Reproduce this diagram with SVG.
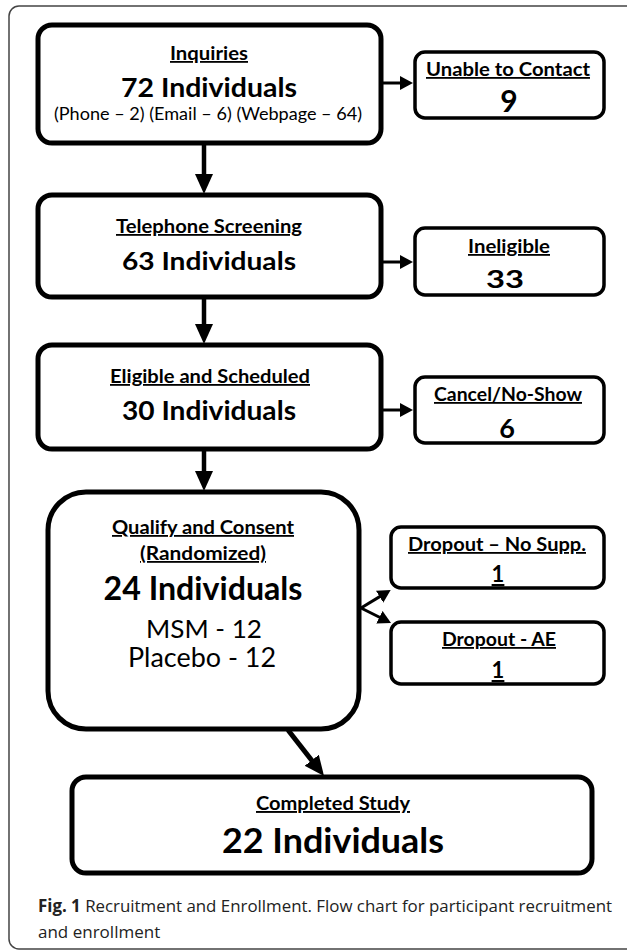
<svg xmlns="http://www.w3.org/2000/svg" width="627" height="950" viewBox="0 0 627 950">
<style>
.main{fill:#fff;stroke:#000;stroke-width:5}
.side{fill:#fff;stroke:#000;stroke-width:3.5}
text{font-family:Lato,"Open Sans","Liberation Sans",sans-serif;fill:#000;text-anchor:middle}
.h{font-weight:bold;font-size:18px;text-decoration:underline}
.big{font-weight:bold}
.reg{font-weight:normal}
.cap{font-family:"Open Sans","Liberation Sans",sans-serif;font-size:17px;text-anchor:start;fill:#222}
.conn{stroke:#000;fill:none}
</style>
<defs>
<marker id="bigArrow" markerUnits="userSpaceOnUse" markerWidth="22" markerHeight="20" refX="6" refY="9" orient="auto">
<path d="M0,0 L20,9 L0,18 z" fill="#000"/>
</marker>
<marker id="smallArrow" markerUnits="userSpaceOnUse" markerWidth="16" markerHeight="16" refX="4" refY="7" orient="auto">
<path d="M0,0 L13,7 L0,14 z" fill="#000"/>
</marker>
</defs>
<rect x="9" y="6" width="630" height="943" rx="10" fill="#fff" stroke="#444" stroke-width="1.5"/>

<g id="connectors">
<line class="conn" x1="204" y1="143" x2="204" y2="180" stroke-width="4.5" marker-end="url(#bigArrow)"/>
<line class="conn" x1="204" y1="297" x2="204" y2="330" stroke-width="4.5" marker-end="url(#bigArrow)"/>
<line class="conn" x1="204" y1="449" x2="204" y2="477" stroke-width="4.5" marker-end="url(#bigArrow)"/>
<line class="conn" x1="288" y1="730" x2="315.4" y2="765" stroke-width="5" marker-end="url(#bigArrow)"/>
<line class="conn" x1="382" y1="83" x2="404" y2="83" stroke-width="3" marker-end="url(#smallArrow)"/>
<line class="conn" x1="382" y1="262" x2="404" y2="262" stroke-width="3" marker-end="url(#smallArrow)"/>
<line class="conn" x1="382" y1="410" x2="404" y2="410" stroke-width="3" marker-end="url(#smallArrow)"/>
<line class="conn" x1="361" y1="608" x2="383" y2="594.6" stroke-width="3" marker-end="url(#smallArrow)"/>
<line class="conn" x1="361" y1="608" x2="383" y2="619" stroke-width="3" marker-end="url(#smallArrow)"/>
</g>

<g id="inquiries">
<rect class="main" x="38" y="25" width="343" height="118" rx="14"/>
<text class="h" x="209" y="60" textLength="78" lengthAdjust="spacingAndGlyphs">Inquiries</text>
<text class="big" x="209" y="97" font-size="26" textLength="176" lengthAdjust="spacingAndGlyphs">72 Individuals</text>
<text class="reg" x="208" y="120" font-size="16.5" textLength="308" lengthAdjust="spacingAndGlyphs">(Phone – 2) (Email – 6) (Webpage – 64)</text>
</g>

<g id="unable">
<rect class="side" x="415" y="52" width="189" height="66" rx="10"/>
<text class="h" x="508" y="76" textLength="164" lengthAdjust="spacingAndGlyphs">Unable to Contact</text>
<text class="big" x="509" y="112" font-size="30">9</text>
</g>

<g id="telephone">
<rect class="main" x="38" y="195" width="343" height="102" rx="14"/>
<text class="h" x="209" y="233" textLength="186" lengthAdjust="spacingAndGlyphs">Telephone Screening</text>
<text class="big" x="209" y="270" font-size="25" textLength="174" lengthAdjust="spacingAndGlyphs">63 Individuals</text>
</g>

<g id="ineligible">
<rect class="side" x="415" y="228" width="189" height="67" rx="10"/>
<text class="h" x="509" y="253" textLength="82" lengthAdjust="spacingAndGlyphs">Ineligible</text>
<text class="big" x="505" y="288" font-size="25" textLength="38" lengthAdjust="spacingAndGlyphs">33</text>
</g>

<g id="eligible">
<rect class="main" x="38" y="345" width="343" height="104" rx="14"/>
<text class="h" x="210" y="383" textLength="200" lengthAdjust="spacingAndGlyphs">Eligible and Scheduled</text>
<text class="big" x="209" y="420" font-size="27" textLength="174" lengthAdjust="spacingAndGlyphs">30 Individuals</text>
</g>

<g id="cancel">
<rect class="side" x="415" y="377" width="189" height="66" rx="10"/>
<text class="h" x="508" y="401" textLength="148" lengthAdjust="spacingAndGlyphs">Cancel/No-Show</text>
<text class="big" x="507" y="438" font-size="27">6</text>
</g>

<g id="qualify">
<rect class="main" x="48" y="492" width="311" height="237" rx="38"/>
<text class="h" x="203" y="534" textLength="182" lengthAdjust="spacingAndGlyphs">Qualify and Consent</text>
<text class="h" x="203" y="560" textLength="126" lengthAdjust="spacingAndGlyphs">(Randomized)</text>
<text class="big" x="203" y="600" font-size="32" textLength="199" lengthAdjust="spacingAndGlyphs">24 Individuals</text>
<text class="reg" x="204" y="638" font-size="25" textLength="116" lengthAdjust="spacingAndGlyphs">MSM - 12</text>
<text class="reg" x="202" y="667" font-size="26" textLength="148" lengthAdjust="spacingAndGlyphs">Placebo - 12</text>
</g>

<g id="dropout-nosupp">
<rect class="side" x="391" y="527" width="213" height="61" rx="10"/>
<text class="h" x="497" y="551" textLength="178" lengthAdjust="spacingAndGlyphs">Dropout – No Supp.</text>
<text class="h" x="498" y="582" style="font-size:22px">1</text>
</g>

<g id="dropout-ae">
<rect class="side" x="391" y="622" width="213" height="62" rx="10"/>
<text class="h" x="499" y="646" textLength="114" lengthAdjust="spacingAndGlyphs">Dropout - AE</text>
<text class="h" x="498" y="678" style="font-size:22px">1</text>
</g>

<g id="completed">
<rect class="main" x="72" y="777" width="520" height="96" rx="14"/>
<text class="h" x="333" y="810" style="font-size:19px" textLength="154" lengthAdjust="spacingAndGlyphs">Completed Study</text>
<text class="big" x="333" y="853" font-size="35" textLength="222" lengthAdjust="spacingAndGlyphs">22 Individuals</text>
</g>

<g id="caption">
<text class="cap" x="38" y="912" textLength="574" lengthAdjust="spacingAndGlyphs"><tspan font-weight="bold">Fig. 1</tspan> Recruitment and Enrollment. Flow chart for participant recruitment</text>
<text class="cap" x="38" y="938">and enrollment</text>
</g>
</svg>
